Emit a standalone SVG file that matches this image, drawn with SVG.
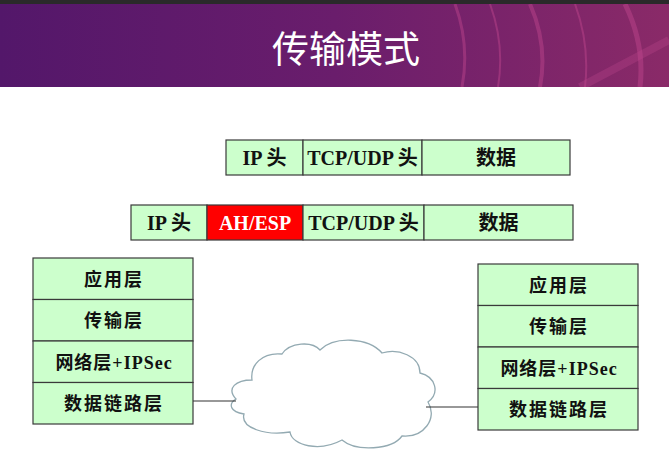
<svg xmlns="http://www.w3.org/2000/svg" width="669" height="453" viewBox="0 0 669 453">
  <defs>
    <linearGradient id="band" x1="0" y1="0" x2="1" y2="0">
      <stop offset="0" stop-color="#53176a"/>
      <stop offset="0.5" stop-color="#6a1d6c"/>
      <stop offset="1" stop-color="#8a2a68"/>
    </linearGradient>
    <clipPath id="bandClip"><rect x="0" y="4" width="669" height="83"/></clipPath>
    <style>
      .cell { fill: #ccffcc; stroke: #3a3a3a; stroke-width: 1.2; }
      .red { fill: #ff0000; stroke: #3a3a3a; stroke-width: 1.2; }
      .lbl { font-family: "Liberation Serif", "Noto Sans CJK SC", serif; font-weight: bold; font-size: 20px; fill: #111; text-anchor: middle; }
      .lay { font-family: "Liberation Serif", "Noto Sans CJK SC", serif; font-weight: bold; font-size: 18px; letter-spacing: 2px; fill: #111; text-anchor: middle; }
      .wire { stroke: #333; stroke-width: 1.2; fill: none; }
    </style>
  </defs>

  <!-- header band -->
  <rect x="0" y="0" width="669" height="453" fill="#ffffff"/>
  <rect x="0" y="0" width="669" height="4" fill="#2a2a2a"/>
  <rect x="0" y="4" width="669" height="83" fill="url(#band)"/>
  <g clip-path="url(#bandClip)" fill="none" stroke="#c0488f" stroke-opacity="0.45">
    <path d="M455 4 Q470 45 462 87" stroke-width="3"/>
    <path d="M490 4 Q505 45 498 87" stroke-width="2"/>
    <path d="M530 4 Q548 45 540 87" stroke-width="4"/>
    <path d="M575 4 Q590 45 585 87" stroke-width="2"/>
    <path d="M625 4 Q645 45 640 87" stroke-width="5"/>
    <path d="M580 87 L669 40" stroke-width="8" stroke-opacity="0.3"/>
  </g>
  <text x="346" y="63" font-family="Noto Sans CJK SC, sans-serif" font-size="37" fill="#ffffff" text-anchor="middle">传输模式</text>

  <!-- packet: original -->
  <g id="packet-plain">
    <rect class="cell" x="226" y="140" width="77" height="35"/>
    <rect class="cell" x="303" y="140" width="119" height="35"/>
    <rect class="cell" x="422" y="140" width="148" height="35"/>
    <text class="lbl" x="264.5" y="164.5">IP 头</text>
    <text class="lbl" x="362.5" y="164.5">TCP/UDP 头</text>
    <text class="lbl" x="496" y="164.5">数据</text>
  </g>

  <!-- packet: with AH/ESP -->
  <g id="packet-ipsec">
    <rect class="cell" x="131" y="205" width="76" height="35"/>
    <rect class="red" x="207" y="205" width="96" height="35"/>
    <rect class="cell" x="303" y="205" width="121" height="35"/>
    <rect class="cell" x="424" y="205" width="149" height="35"/>
    <text class="lbl" x="169" y="229.5">IP 头</text>
    <text class="lbl" x="255" y="229.5" style="fill:#ffffff">AH/ESP</text>
    <text class="lbl" x="363.5" y="229.5">TCP/UDP 头</text>
    <text class="lbl" x="498.5" y="229.5">数据</text>
  </g>

  <!-- left host stack -->
  <g id="host-left">
    <rect class="cell" x="33" y="258" width="160" height="41.5"/>
    <rect class="cell" x="33" y="299.5" width="160" height="41.5"/>
    <rect class="cell" x="33" y="341" width="160" height="41.5"/>
    <rect class="cell" x="33" y="382.5" width="160" height="41.5"/>
    <text class="lay" x="114" y="285.5">应用层</text>
    <text class="lay" x="114" y="327">传输层</text>
    <text class="lay" x="114" y="368.5" style="letter-spacing:1px">网络层+IPSec</text>
    <text class="lay" x="114" y="410">数据链路层</text>
  </g>

  <!-- right host stack -->
  <g id="host-right">
    <rect class="cell" x="478" y="264" width="160" height="41.5"/>
    <rect class="cell" x="478" y="305.5" width="160" height="41.5"/>
    <rect class="cell" x="478" y="347" width="160" height="41.5"/>
    <rect class="cell" x="478" y="388.5" width="160" height="41.5"/>
    <text class="lay" x="559" y="291.5">应用层</text>
    <text class="lay" x="559" y="333">传输层</text>
    <text class="lay" x="559" y="374.5" style="letter-spacing:1px">网络层+IPSec</text>
    <text class="lay" x="559" y="416">数据链路层</text>
  </g>

  <!-- network cloud -->
  <g id="cloud">
    <path d="M236 399
             C226 388 236 380 252 380
             C250 365 262 352 282 354
             C290 342 312 341 320 350
             C334 336 368 337 382 353
             C398 348 420 356 420 373
             C436 377 440 393 428 402
             C438 418 424 438 402 436
             C392 450 356 452 342 440
             C320 452 292 446 290 432
             C266 436 240 428 244 414
             C230 412 228 404 236 399 Z"
          fill="#ffffff" stroke="#93aab2" stroke-width="1.3"/>
  </g>

  <!-- links -->
  <g id="connectors">
    <line class="wire" x1="193" y1="401" x2="236" y2="401"/>
    <line class="wire" x1="426" y1="407" x2="478" y2="407"/>
  </g>
</svg>
